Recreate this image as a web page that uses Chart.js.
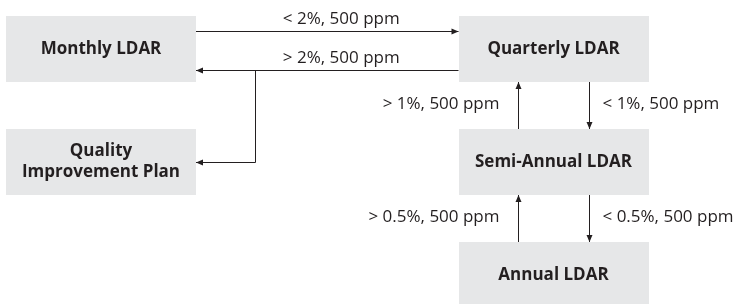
<!DOCTYPE html>
<html>
<head>
<meta charset="utf-8">
<title>LDAR frequency flow</title>
<script src="https://cdn.jsdelivr.net/npm/chart.js@4/dist/chart.umd.min.js"></script>
<style>
  body { margin: 0; background: #fff; }
  #wrap { width: 735px; height: 304px; }
</style>
</head>
<body>
<div id="wrap"><canvas id="flow" width="735" height="304"></canvas></div>
<script>
// nodes of the flow (column / row in the diagram grid)
const nodeLabels = ['Monthly LDAR', 'Quarterly LDAR', 'Quality\nImprovement Plan', 'Semi-Annual LDAR', 'Annual LDAR'];
const nodeCol = [0, 1, 0, 1, 1];
const nodeRow = [0, 0, 1, 1, 2];

// transitions between nodes
const edgeFrom = [0, 1, 3, 1, 4, 3];
const edgeTo = [1, 0, 1, 3, 3, 4];
const edgeLabels = ['< 2%, 500 ppm', '> 2%, 500 ppm', '> 1%, 500 ppm', '< 1%, 500 ppm', '> 0.5%, 500 ppm', '< 0.5%, 500 ppm'];

// the "> 2%" transition also branches to the improvement plan
const branchEdge = [1];
const branchTo = [2];

const BOX_W = 190, BOX_H = 66;
const BOX_FILL = '#e6e7e8';
const INK = '#231f20';
const FONT = '"Open Sans", sans-serif';

function arrowHead(ctx, x, y, dir) {
    // dir: 'l','r','u','d'
    const L = 7, H = 3;
    ctx.beginPath();
    if (dir === 'r') { ctx.moveTo(x, y); ctx.lineTo(x - L, y - H); ctx.lineTo(x - L, y + H); }
    if (dir === 'l') { ctx.moveTo(x, y); ctx.lineTo(x + L, y - H); ctx.lineTo(x + L, y + H); }
    if (dir === 'u') { ctx.moveTo(x, y); ctx.lineTo(x - H, y + L); ctx.lineTo(x + H, y + L); }
    if (dir === 'd') { ctx.moveTo(x, y); ctx.lineTo(x - H, y - L); ctx.lineTo(x + H, y - L); }
    ctx.closePath();
    ctx.fill();
}

const flowPlugin = {
    id: 'flow',
    afterDatasetsDraw(chart) {
        const ctx = chart.ctx;
        const xs = chart.scales.x, ys = chart.scales.y;
        const cx = i => xs.getPixelForValue(nodeCol[i]);
        const cy = i => ys.getPixelForValue(nodeRow[i]);

        ctx.save();
        // boxes
        nodeLabels.forEach((lab, i) => {
            const x = Math.round(cx(i) - BOX_W / 2), y = Math.round(cy(i) - BOX_H / 2);
            ctx.fillStyle = BOX_FILL;
            ctx.fillRect(x, y, BOX_W, BOX_H);
            ctx.fillStyle = INK;
            ctx.font = 'bold 17px ' + FONT;
            ctx.textAlign = 'center';
            ctx.textBaseline = 'middle';
            const lines = lab.split('\n');
            lines.forEach((ln, k) => {
                ctx.fillText(ln, cx(i), cy(i) + (k - (lines.length - 1) / 2) * 21);
            });
        });

        // edges
        ctx.strokeStyle = INK;
        ctx.fillStyle = INK;
        ctx.lineWidth = 1;
        ctx.font = '17px ' + FONT;
        const lanes = {};
        edgeFrom.forEach((a, e) => {
            const b = edgeTo[e];
            ctx.beginPath();
            if (nodeRow[a] === nodeRow[b]) {
                const right = nodeCol[b] > nodeCol[a];
                const y = Math.round(cy(a) + (right ? -18 : 21)) + 0.5;
                const x0 = cx(a) + (right ? 1 : -1) * BOX_W / 2;
                const x1 = cx(b) + (right ? -1 : 1) * BOX_W / 2;
                ctx.moveTo(x0, y); ctx.lineTo(x1, y); ctx.stroke();
                arrowHead(ctx, x1, y, right ? 'r' : 'l');
                ctx.textAlign = 'center';
                ctx.textBaseline = 'middle';
                ctx.fillText(edgeLabels[e], (x0 + x1) / 2 + 14, y - 12);
                lanes[e] = { y: y, left: Math.min(x0, x1) };
            } else {
                const down = nodeRow[b] > nodeRow[a];
                const x = Math.round(cx(a) + (down ? 35 : -36)) + 0.5;
                const y0 = cy(a) + (down ? 1 : -1) * BOX_H / 2;
                const y1 = cy(b) + (down ? -1 : 1) * BOX_H / 2;
                ctx.moveTo(x, y0); ctx.lineTo(x, y1); ctx.stroke();
                arrowHead(ctx, x, y1, down ? 'd' : 'u');
                ctx.textBaseline = 'middle';
                ctx.textAlign = down ? 'left' : 'right';
                ctx.fillText(edgeLabels[e], x + (down ? 13 : -19), (y0 + y1) / 2 - 1);
            }
        });

        // branches off an edge
        branchEdge.forEach((e, k) => {
            const t = branchTo[k];
            const lane = lanes[e];
            const bx = Math.round(lane.left + 59) + 0.5;
            const ty = Math.round(cy(t)) + 0.5;
            const tx = cx(t) + BOX_W / 2;
            ctx.beginPath();
            ctx.moveTo(bx, lane.y); ctx.lineTo(bx, ty); ctx.lineTo(tx, ty); ctx.stroke();
            arrowHead(ctx, tx, ty, 'l');
        });
        ctx.restore();
    }
};

// pixel anchors of the grid: column 0 -> 101px, column 1 -> 553.5px, rows every 113px from 49px
const colUnit = 452.5, rowUnit = 113;
const xMin = -101 / colUnit, yMin = -49 / rowUnit;

new Chart(document.getElementById('flow'), {
    type: 'scatter',
    data: {
        datasets: [{
            data: nodeCol.map((c, i) => ({ x: c, y: nodeRow[i] })),
            pointRadius: 0
        }]
    },
    options: {
        responsive: false,
        animation: false,
        events: [],
        layout: { padding: 0 },
        plugins: { legend: { display: false }, tooltip: { enabled: false } },
        scales: {
            x: { type: 'linear', display: false, min: xMin, max: xMin + 735 / colUnit },
            y: { type: 'linear', display: false, reverse: true, min: yMin, max: yMin + 304 / rowUnit }
        }
    },
    plugins: [flowPlugin]
});
</script>
</body>
</html>
